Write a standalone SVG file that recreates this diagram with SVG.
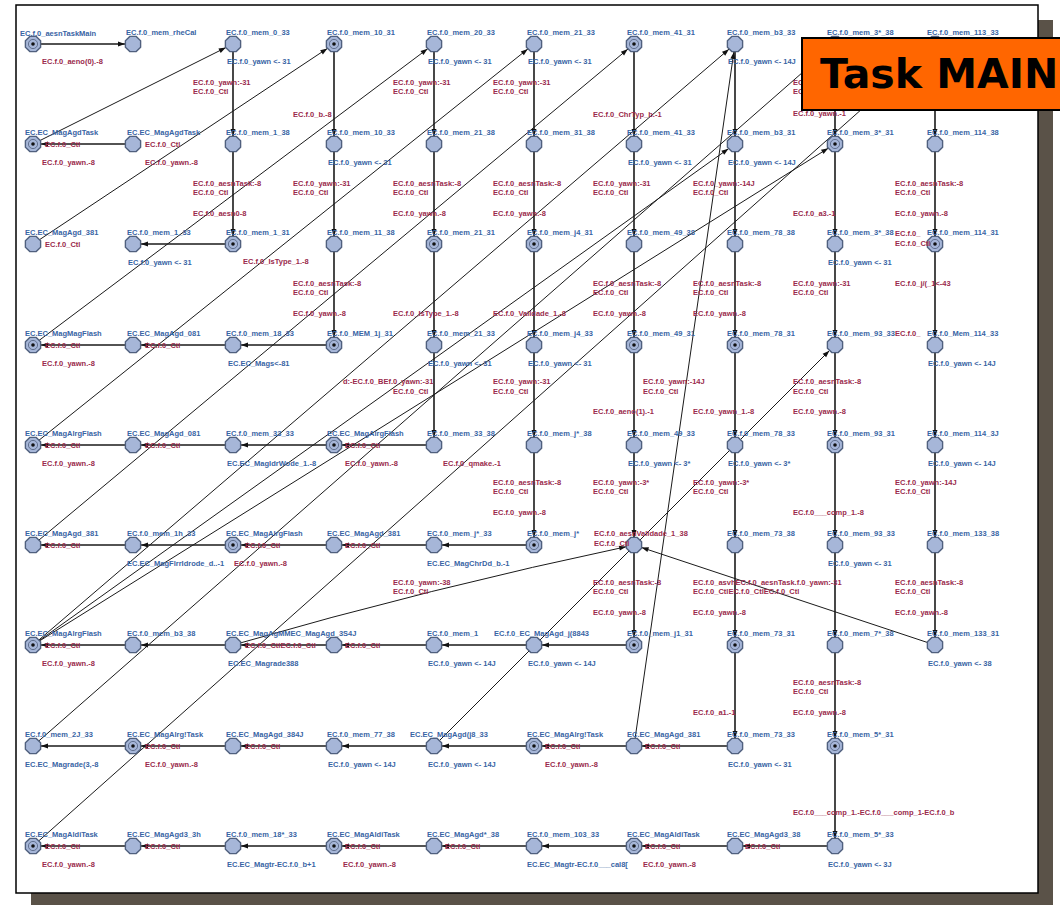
<svg xmlns="http://www.w3.org/2000/svg" xmlns:xlink="http://www.w3.org/1999/xlink" width="1060" height="905" viewBox="0 0 1060 905">
<style>
text{font-family:"Liberation Sans",Arial,sans-serif;font-size:7.5px;font-weight:bold}
.b{fill:#3864a4}
.r{fill:#9a2a4c}
.e{stroke:#1a1a1a;stroke-width:1.6;fill:none;marker-end:url(#arr)}
.d{stroke:#1a1a1a;stroke-width:1;fill:none;marker-end:url(#arr)}
.st{fill:#a6b6d8;stroke:#50607e;stroke-width:1.4}
.title{font-family:"DejaVu Sans",sans-serif;font-size:41px;font-weight:bold;fill:#000}
</style>
<defs>
<marker id="arr" markerUnits="userSpaceOnUse" markerWidth="8" markerHeight="6" refX="15" refY="2.5" orient="auto" overflow="visible">
<path d="M0,0 L7,2.5 L0,5 z" fill="#111"/>
</marker>
<polygon id="st" class="st" points="7.6,3.2 3.2,7.6 -3.2,7.6 -7.6,3.2 -7.6,-3.2 -3.2,-7.6 3.2,-7.6 7.6,-3.2"/>
<g id="sd"><use xlink:href="#st"/><circle r="4.6" fill="none" stroke="#50607e" stroke-width="0.8"/><circle r="1.8" fill="#111"/></g>
</defs>

<!-- sheet with drop shadow -->
<rect x="31" y="20" width="1022" height="892" fill="#5a5248"/>
<rect x="16" y="5" width="1022" height="888" fill="#fff" stroke="#000" stroke-width="1.5"/>

<g id="connectors">
<!-- vertical transitions -->
<line class="e" x1="233" y1="44" x2="233" y2="144"/><line class="e" x1="233" y1="144" x2="233" y2="244"/>
<line class="e" x1="334" y1="44" x2="334" y2="144"/><line class="e" x1="334" y1="144" x2="334" y2="244"/><line class="e" x1="334" y1="244" x2="334" y2="345"/>
<line class="e" x1="434" y1="44" x2="434" y2="144"/><line class="e" x1="434" y1="144" x2="434" y2="244"/><line class="e" x1="434" y1="244" x2="434" y2="345"/><line class="e" x1="434" y1="345" x2="434" y2="445"/>
<line class="e" x1="534" y1="44" x2="534" y2="144"/><line class="e" x1="534" y1="144" x2="534" y2="244"/><line class="e" x1="534" y1="244" x2="534" y2="345"/><line class="e" x1="534" y1="345" x2="534" y2="445"/><line class="e" x1="534" y1="445" x2="534" y2="545"/>
<line class="e" x1="634" y1="44" x2="634" y2="144"/><line class="e" x1="634" y1="144" x2="634" y2="244"/><line class="e" x1="634" y1="244" x2="634" y2="345"/><line class="e" x1="634" y1="345" x2="634" y2="445"/><line class="e" x1="634" y1="445" x2="634" y2="545"/><line class="e" x1="634" y1="545" x2="634" y2="645"/>
<line class="e" x1="735" y1="44" x2="735" y2="144"/><line class="e" x1="735" y1="144" x2="735" y2="244"/><line class="e" x1="735" y1="244" x2="735" y2="345"/><line class="e" x1="735" y1="345" x2="735" y2="445"/><line class="e" x1="735" y1="445" x2="735" y2="545"/><line class="e" x1="735" y1="545" x2="735" y2="645"/><line class="e" x1="735" y1="645" x2="735" y2="746"/>
<line class="e" x1="835" y1="44" x2="835" y2="144"/><line class="e" x1="835" y1="144" x2="835" y2="244"/><line class="e" x1="835" y1="244" x2="835" y2="345"/><line class="e" x1="835" y1="345" x2="835" y2="445"/><line class="e" x1="835" y1="445" x2="835" y2="545"/><line class="e" x1="835" y1="545" x2="835" y2="645"/><line class="e" x1="835" y1="645" x2="835" y2="746"/><line class="e" x1="835" y1="746" x2="835" y2="846"/>
<line class="e" x1="935" y1="44" x2="935" y2="144"/><line class="e" x1="935" y1="144" x2="935" y2="244"/><line class="e" x1="935" y1="244" x2="935" y2="345"/><line class="e" x1="935" y1="345" x2="935" y2="445"/><line class="e" x1="935" y1="445" x2="935" y2="545"/><line class="e" x1="935" y1="545" x2="935" y2="645"/>
<!-- horizontal transitions -->
<line class="e" x1="33" y1="44" x2="133" y2="44"/>
<line class="e" x1="133" y1="144" x2="33" y2="144"/>
<line class="e" x1="233" y1="244" x2="133" y2="244"/>
<line class="e" x1="334" y1="345" x2="233" y2="345"/><line class="e" x1="233" y1="345" x2="133" y2="345"/><line class="e" x1="133" y1="345" x2="33" y2="345"/>
<line class="e" x1="434" y1="445" x2="334" y2="445"/><line class="e" x1="334" y1="445" x2="233" y2="445"/><line class="e" x1="233" y1="445" x2="133" y2="445"/><line class="e" x1="133" y1="445" x2="33" y2="445"/>
<line class="e" x1="534" y1="545" x2="434" y2="545"/><line class="e" x1="434" y1="545" x2="334" y2="545"/><line class="e" x1="334" y1="545" x2="233" y2="545"/><line class="e" x1="233" y1="545" x2="133" y2="545"/><line class="e" x1="133" y1="545" x2="33" y2="545"/>
<line class="e" x1="634" y1="645" x2="534" y2="645"/><line class="e" x1="534" y1="645" x2="434" y2="645"/><line class="e" x1="434" y1="645" x2="334" y2="645"/><line class="e" x1="334" y1="645" x2="233" y2="645"/><line class="e" x1="233" y1="645" x2="133" y2="645"/><line class="e" x1="133" y1="645" x2="33" y2="645"/>
<line class="e" x1="735" y1="746" x2="634" y2="746"/><line class="e" x1="634" y1="746" x2="534" y2="746"/><line class="e" x1="534" y1="746" x2="434" y2="746"/><line class="e" x1="434" y1="746" x2="334" y2="746"/><line class="e" x1="334" y1="746" x2="233" y2="746"/><line class="e" x1="233" y1="746" x2="133" y2="746"/><line class="e" x1="133" y1="746" x2="33" y2="746"/>
<line class="e" x1="835" y1="846" x2="735" y2="846"/><line class="e" x1="735" y1="846" x2="634" y2="846"/><line class="e" x1="634" y1="846" x2="534" y2="846"/><line class="e" x1="534" y1="846" x2="434" y2="846"/><line class="e" x1="434" y1="846" x2="334" y2="846"/><line class="e" x1="334" y1="846" x2="233" y2="846"/><line class="e" x1="233" y1="846" x2="133" y2="846"/><line class="e" x1="133" y1="846" x2="33" y2="846"/>
<!-- long return transitions -->
<line class="d" x1="33" y1="144" x2="233" y2="44"/>
<line class="d" x1="33" y1="244" x2="334" y2="44"/>
<line class="d" x1="33" y1="345" x2="434" y2="44"/>
<line class="d" x1="33" y1="445" x2="534" y2="44"/>
<line class="d" x1="33" y1="545" x2="634" y2="44"/>
<line class="d" x1="33" y1="645" x2="735" y2="44"/>
<line class="d" x1="33" y1="645" x2="735" y2="144"/>
<line class="d" x1="33" y1="645" x2="835" y2="144"/>
<line class="d" x1="33" y1="746" x2="835" y2="44"/>
<line class="d" x1="33" y1="846" x2="935" y2="44"/>
<line class="d" x1="434" y1="746" x2="835" y2="345"/>
<line class="d" x1="634" y1="746" x2="735" y2="44"/>
<path class="d" d="M233,645 Q430,588 634,545"/>
<line class="d" x1="935" y1="645" x2="634" y2="545"/>
<!-- transition labels -->
<text class="r" x="193" y="85">EC.f.0_yawn:-31</text><text class="r" x="193" y="94">EC.f.0_Ctl</text>
<text class="r" x="193" y="186">EC.f.0_aesnTask:-8</text><text class="r" x="193" y="195">EC.f.0_Ctl</text>
<text class="r" x="193" y="216">EC.f.0_aesn0-8</text>
<text class="r" x="293" y="117">EC.f.0_b.-8</text>
<text class="r" x="293" y="186">EC.f.0_yawn:-31</text><text class="r" x="293" y="195">EC.f.0_Ctl</text>
<text class="r" x="293" y="286">EC.f.0_aesnTask:-8</text><text class="r" x="293" y="295">EC.f.0_Ctl</text>
<text class="r" x="293" y="316">EC.f.0_yawn.-8</text>
<text class="r" x="243" y="264">EC.f.0_IsType_1.-8</text>
<text class="r" x="393" y="85">EC.f.0_yawn:-31</text><text class="r" x="393" y="94">EC.f.0_Ctl</text>
<text class="r" x="393" y="186">EC.f.0_aesnTask:-8</text><text class="r" x="393" y="195">EC.f.0_Ctl</text>
<text class="r" x="393" y="216">EC.f.0_yawn.-8</text>
<text class="r" x="393" y="316">EC.f.0_IsType_1.-8</text>
<text class="r" x="343" y="384">d:-EC.f.0_BEf.0_yawn:-31</text><text class="r" x="393" y="394">EC.f.0_Ctl</text>
<text class="r" x="493" y="85">EC.f.0_yawn:-31</text><text class="r" x="493" y="94">EC.f.0_Ctl</text>
<text class="r" x="493" y="186">EC.f.0_aesnTask:-8</text><text class="r" x="493" y="195">EC.f.0_Ctl</text>
<text class="r" x="493" y="216">EC.f.0_yawn.-8</text>
<text class="r" x="493" y="316">EC.f.0_ValIdade_1.-8</text>
<text class="r" x="493" y="384">EC.f.0_yawn:-31</text><text class="r" x="493" y="394">EC.f.0_Ctl</text>
<text class="r" x="493" y="485">EC.f.0_aesnTask:-8</text><text class="r" x="493" y="494">EC.f.0_Ctl</text>
<text class="r" x="493" y="515">EC.f.0_yawn.-8</text>
<text class="r" x="593" y="117">EC.f.0_ChrTyp_b.-1</text>
<text class="r" x="593" y="186">EC.f.0_yawn:-31</text><text class="r" x="593" y="195">EC.f.0_Ctl</text>
<text class="r" x="593" y="286">EC.f.0_aesnTask:-8</text><text class="r" x="593" y="295">EC.f.0_Ctl</text>
<text class="r" x="593" y="316">EC.f.0_yawn.-8</text>
<text class="r" x="643" y="384">EC.f.0_yawn:-14J</text><text class="r" x="643" y="394">EC.f.0_Ctl</text>
<text class="r" x="593" y="414">EC.f.0_aeno(1).-1</text>
<text class="r" x="593" y="485">EC.f.0_yawn:-3*</text><text class="r" x="593" y="494">EC.f.0_Ctl</text>
<text class="r" x="593" y="585">EC.f.0_aesnTask:-8</text><text class="r" x="593" y="594">EC.f.0_Ctl</text>
<text class="r" x="593" y="615">EC.f.0_yawn.-8</text>
<text class="r" x="393" y="585">EC.f.0_yawn:-38</text><text class="r" x="393" y="594">EC.f.0_Ctl</text>
<text class="r" x="793" y="85">EC</text><text class="r" x="793" y="94">EC</text>
<text class="r" x="793" y="116">EC.f.0_yawn.-1</text>
<text class="r" x="693" y="186">EC.f.0_yawn:-14J</text><text class="r" x="693" y="195">EC.f.0_Ctl</text>
<text class="r" x="693" y="286">EC.f.0_aesnTask:-8</text><text class="r" x="693" y="295">EC.f.0_Ctl</text>
<text class="r" x="693" y="316">EC.f.0_yawn.-8</text>
<text class="r" x="693" y="414">EC.f.0_yawn_1.-8</text>
<text class="r" x="693" y="485">EC.f.0_yawn:-3*</text><text class="r" x="693" y="494">EC.f.0_Ctl</text>
<text class="r" x="693" y="585">EC.f.0_asvhEC.f.0_aesnTask.f.0_yawn:-31</text><text class="r" x="693" y="594">EC.f.0_CtlEC.f.0_CtlEC.f.0_Ctl</text>
<text class="r" x="693" y="615">EC.f.0_yawn.-8</text>
<text class="r" x="693" y="715">EC.f.0_a1.-1</text>
<text class="r" x="793" y="216">EC.f.0_a3.-1</text>
<text class="r" x="793" y="286">EC.f.0_yawn:-31</text><text class="r" x="793" y="295">EC.f.0_Ctl</text>
<text class="r" x="793" y="384">EC.f.0_aesnTask:-8</text><text class="r" x="793" y="394">EC.f.0_Ctl</text>
<text class="r" x="793" y="414">EC.f.0_yawn.-8</text>
<text class="r" x="793" y="515">EC.f.0___comp_1.-8</text>
<text class="r" x="793" y="685">EC.f.0_aesnTask:-8</text><text class="r" x="793" y="694">EC.f.0_Ctl</text>
<text class="r" x="793" y="715">EC.f.0_yawn.-8</text>
<text class="r" x="793" y="815">EC.f.0___comp_1.-EC.f.0___comp_1-EC.f.0_b</text>
<text class="r" x="895" y="186">EC.f.0_aesnTask:-8</text><text class="r" x="895" y="195">EC.f.0_Ctl</text>
<text class="r" x="895" y="216">EC.f.0_yawn.-8</text>
<text class="r" x="895" y="286">EC.f.0_j/(_1&lt;-43</text>
<text class="r" x="895" y="485">EC.f.0_yawn:-14J</text><text class="r" x="895" y="494">EC.f.0_Ctl</text>
<text class="r" x="895" y="585">EC.f.0_aesnTask:-8</text><text class="r" x="895" y="594">EC.f.0_Ctl</text>
<text class="r" x="895" y="615">EC.f.0_yawn.-8</text>
</g>

<!-- row 1 -->
<g id="s1_0"><use xlink:href="#sd" x="33" y="44"/><text class="b" x="20" y="36">EC.f.0_aesnTaskMain</text><text class="r" x="42" y="64">EC.f.0_aeno(0).-8</text></g>
<g id="s1_1"><use xlink:href="#st" x="133" y="44"/><text class="b" x="126" y="35">EC.f.0_mem_rheCal</text></g>
<g id="s1_2"><use xlink:href="#st" x="233" y="44"/><text class="b" x="226" y="35">EC.f.0_mem_0_33</text><text class="b" x="227" y="64">EC.f.0_yawn &lt;- 31</text></g>
<g id="s1_3"><use xlink:href="#sd" x="334" y="44"/><text class="b" x="327" y="35">EC.f.0_mem_10_31</text></g>
<g id="s1_4"><use xlink:href="#st" x="434" y="44"/><text class="b" x="427" y="35">EC.f.0_mem_20_33</text><text class="b" x="428" y="64">EC.f.0_yawn &lt;- 31</text></g>
<g id="s1_5"><use xlink:href="#st" x="534" y="44"/><text class="b" x="527" y="35">EC.f.0_mem_21_33</text><text class="b" x="528" y="64">EC.f.0_yawn &lt;- 31</text></g>
<g id="s1_6"><use xlink:href="#sd" x="634" y="44"/><text class="b" x="627" y="35">EC.f.0_mem_41_31</text></g>
<g id="s1_7"><use xlink:href="#st" x="735" y="44"/><text class="b" x="727" y="35">EC.f.0_mem_b3_33</text><text class="b" x="728" y="64">EC.f.0_yawn &lt;- 14J</text></g>
<g id="s1_8"><use xlink:href="#st" x="835" y="44"/><text class="b" x="827" y="35">EC.f.0_mem_3*_38</text></g>
<g id="s1_9"><use xlink:href="#st" x="935" y="44"/><text class="b" x="927" y="35">EC.f.0_mem_113_33</text></g>
<!-- row 2 -->
<g id="s2_0"><use xlink:href="#sd" x="33" y="144"/><text class="b" x="25" y="135">EC.EC_MagAgdTask</text><text class="r" x="45" y="147">EC.f.0_Ctl</text><text class="r" x="42" y="165">EC.f.0_yawn.-8</text></g>
<g id="s2_1"><use xlink:href="#st" x="133" y="144" style="stroke:#222;stroke-width:2.2"/><text class="b" x="127" y="135">EC.EC_MagAgdTask</text><text class="r" x="145" y="147">EC.f.0_Ctl</text><text class="r" x="145" y="165">EC.f.0_yawn.-8</text></g>
<g id="s2_2"><use xlink:href="#st" x="233" y="144"/><text class="b" x="226" y="135">EC.f.0_mem_1_38</text></g>
<g id="s2_3"><use xlink:href="#st" x="334" y="144"/><text class="b" x="327" y="135">EC.f.0_mem_10_33</text><text class="b" x="328" y="165">EC.f.0_yawn &lt;- 31</text></g>
<g id="s2_4"><use xlink:href="#st" x="434" y="144"/><text class="b" x="427" y="135">EC.f.0_mem_21_38</text></g>
<g id="s2_5"><use xlink:href="#st" x="534" y="144"/><text class="b" x="527" y="135">EC.f.0_mem_31_38</text></g>
<g id="s2_6"><use xlink:href="#st" x="634" y="144"/><text class="b" x="627" y="135">EC.f.0_mem_41_33</text><text class="b" x="628" y="165">EC.f.0_yawn &lt;- 31</text></g>
<g id="s2_7"><use xlink:href="#st" x="735" y="144"/><text class="b" x="727" y="135">EC.f.0_mem_b3_31</text><text class="b" x="728" y="165">EC.f.0_yawn &lt;- 14J</text></g>
<g id="s2_8"><use xlink:href="#sd" x="835" y="144"/><text class="b" x="827" y="135">EC.f.0_mem_3*_31</text></g>
<g id="s2_9"><use xlink:href="#st" x="935" y="144"/><text class="b" x="927" y="135">EC.f.0_mem_114_38</text></g>
<!-- row 3 -->
<g id="s3_0"><use xlink:href="#st" x="33" y="244"/><text class="b" x="25" y="235">EC.EC_MagAgd_381</text><text class="r" x="45" y="247">EC.f.0_Ctl</text></g>
<g id="s3_1"><use xlink:href="#st" x="133" y="244"/><text class="b" x="127" y="235">EC.f.0_mem_1_33</text><text class="b" x="128" y="265">EC.f.0_yawn &lt;- 31</text></g>
<g id="s3_2"><use xlink:href="#sd" x="233" y="244"/><text class="b" x="226" y="235">EC.f.0_mem_1_31</text></g>
<g id="s3_3"><use xlink:href="#st" x="334" y="244"/><text class="b" x="327" y="235">EC.f.0_mem_11_38</text></g>
<g id="s3_4"><use xlink:href="#sd" x="434" y="244"/><text class="b" x="427" y="235">EC.f.0_mem_21_31</text></g>
<g id="s3_5"><use xlink:href="#sd" x="534" y="244"/><text class="b" x="527" y="235">EC.f.0_mem_j4_31</text></g>
<g id="s3_6"><use xlink:href="#st" x="634" y="244"/><text class="b" x="627" y="235">EC.f.0_mem_49_38</text></g>
<g id="s3_7"><use xlink:href="#st" x="735" y="244"/><text class="b" x="727" y="235">EC.f.0_mem_78_38</text></g>
<g id="s3_8"><use xlink:href="#st" x="835" y="244"/><text class="b" x="827" y="235">EC.f.0_mem_3*_38</text><text class="b" x="828" y="265">EC.f.0_yawn &lt;- 31</text></g>
<g id="s3_9"><use xlink:href="#sd" x="935" y="244"/><text class="b" x="927" y="235">EC.f.0_mem_114_31</text><text class="r" x="895" y="236">EC.f.0_</text><text class="r" x="895" y="246">EC.f.0_Ctl</text></g>
<!-- row 4 -->
<g id="s4_0"><use xlink:href="#sd" x="33" y="345"/><text class="b" x="25" y="336">EC.EC_MagMagFlash</text><text class="r" x="45" y="348">EC.f.0_Ctl</text><text class="r" x="42" y="366">EC.f.0_yawn.-8</text></g>
<g id="s4_1"><use xlink:href="#st" x="133" y="345"/><text class="b" x="127" y="336">EC.EC_MagAgd_081</text><text class="r" x="145" y="348">EC.f.0_Ctl</text></g>
<g id="s4_2"><use xlink:href="#st" x="233" y="345"/><text class="b" x="226" y="336">EC.f.0_mem_18_33</text><text class="b" x="228" y="366">EC.EC_Mags&lt;-81</text></g>
<g id="s4_3"><use xlink:href="#sd" x="334" y="345"/><text class="b" x="327" y="336">EC.f.0_MEM_1j_31</text></g>
<g id="s4_4"><use xlink:href="#st" x="434" y="345"/><text class="b" x="427" y="336">EC.f.0_mem_21_33</text><text class="b" x="428" y="366">EC.f.0_yawn &lt;- 31</text></g>
<g id="s4_5"><use xlink:href="#st" x="534" y="345"/><text class="b" x="527" y="336">EC.f.0_mem_j4_33</text><text class="b" x="528" y="366">EC.f.0_yawn &lt;- 31</text></g>
<g id="s4_6"><use xlink:href="#sd" x="634" y="345"/><text class="b" x="627" y="336">EC.f.0_mem_49_31</text></g>
<g id="s4_7"><use xlink:href="#sd" x="735" y="345"/><text class="b" x="727" y="336">EC.f.0_mem_78_31</text></g>
<g id="s4_8"><use xlink:href="#st" x="835" y="345"/><text class="b" x="827" y="336">EC.f.0_mem_93_33</text><text class="r" x="895" y="336">EC.f.0_</text></g>
<g id="s4_9"><use xlink:href="#st" x="935" y="345"/><text class="b" x="927" y="336">EC.f.0_Mem_114_33</text><text class="b" x="928" y="366">EC.f.0_yawn &lt;- 14J</text></g>
<!-- row 5 -->
<g id="s5_0"><use xlink:href="#sd" x="33" y="445"/><text class="b" x="25" y="436">EC.EC_MagAlrgFlash</text><text class="r" x="45" y="448">EC.f.0_Ctl</text><text class="r" x="42" y="466">EC.f.0_yawn.-8</text></g>
<g id="s5_1"><use xlink:href="#st" x="133" y="445"/><text class="b" x="127" y="436">EC.EC_MagAgd_081</text><text class="r" x="145" y="448">EC.f.0_Ctl</text></g>
<g id="s5_2"><use xlink:href="#st" x="233" y="445"/><text class="b" x="226" y="436">EC.f.0_mem_33_33</text><text class="b" x="227" y="466">EC.EC_MagIdrWode_1.-8</text></g>
<g id="s5_3"><use xlink:href="#sd" x="334" y="445"/><text class="b" x="327" y="436">EC.EC_MagAlrgFlash</text><text class="r" x="345" y="448">EC.f.0_Ctl</text><text class="r" x="345" y="466">EC.f.0_yawn.-8</text></g>
<g id="s5_4"><use xlink:href="#st" x="434" y="445"/><text class="b" x="427" y="436">EC.f.0_mem_33_38</text><text class="r" x="443" y="466">EC.f.0_qmake.-1</text></g>
<g id="s5_5"><use xlink:href="#st" x="534" y="445"/><text class="b" x="527" y="436">EC.f.0_mem_j*_38</text></g>
<g id="s5_6"><use xlink:href="#st" x="634" y="445"/><text class="b" x="627" y="436">EC.f.0_mem_49_33</text><text class="b" x="628" y="466">EC.f.0_yawn &lt;- 3*</text></g>
<g id="s5_7"><use xlink:href="#st" x="735" y="445"/><text class="b" x="727" y="436">EC.f.0_mem_78_33</text><text class="b" x="728" y="466">EC.f.0_yawn &lt;- 3*</text></g>
<g id="s5_8"><use xlink:href="#sd" x="835" y="445"/><text class="b" x="827" y="436">EC.f.0_mem_93_31</text></g>
<g id="s5_9"><use xlink:href="#st" x="935" y="445"/><text class="b" x="927" y="436">EC.f.0_mem_114_3J</text><text class="b" x="928" y="466">EC.f.0_yawn &lt;- 14J</text></g>
<!-- row 6 -->
<g id="s6_0"><use xlink:href="#st" x="33" y="545"/><text class="b" x="25" y="536">EC.EC_MagAgd_381</text><text class="r" x="45" y="548">EC.f.0_Ctl</text></g>
<g id="s6_1"><use xlink:href="#st" x="133" y="545"/><text class="b" x="127" y="536">EC.f.0_mem_1h_33</text><text class="b" x="127" y="566">EC.EC_MagFlrrIdrode_d..-1</text><text class="r" x="234" y="566">EC.f.0_yawn.-8</text></g>
<g id="s6_2"><use xlink:href="#sd" x="233" y="545"/><text class="b" x="226" y="536">EC.EC_MagAlrgFlash</text><text class="r" x="245" y="548">EC.f.0_Ctl</text></g>
<g id="s6_3"><use xlink:href="#st" x="334" y="545"/><text class="b" x="327" y="536">EC.EC_MagAgd_381</text><text class="r" x="345" y="548">EC.f.0_Ctl</text></g>
<g id="s6_4"><use xlink:href="#st" x="434" y="545"/><text class="b" x="427" y="536">EC.f.0_mem_j*_33</text><text class="b" x="427" y="566">EC.EC_MagChrDd_b.-1</text></g>
<g id="s6_5"><use xlink:href="#sd" x="534" y="545"/><text class="b" x="527" y="536">EC.f.0_mem_j*</text></g>
<g id="s6_6"><use xlink:href="#st" x="634" y="545"/><text class="r" x="594" y="536">EC.f.0_aesnValIdade_1_38</text><text class="r" x="594" y="546">EC.f.0_Ctl</text></g>
<g id="s6_7"><use xlink:href="#st" x="735" y="545"/><text class="b" x="727" y="536">EC.f.0_mem_73_38</text></g>
<g id="s6_8"><use xlink:href="#st" x="835" y="545"/><text class="b" x="827" y="536">EC.f.0_mem_93_33</text><text class="b" x="828" y="566">EC.f.0_yawn &lt;- 31</text></g>
<g id="s6_9"><use xlink:href="#st" x="935" y="545"/><text class="b" x="927" y="536">EC.f.0_mem_133_38</text></g>
<!-- row 7 -->
<g id="s7_0"><use xlink:href="#sd" x="33" y="645"/><text class="b" x="25" y="636">EC.EC_MagAlrgFlash</text><text class="r" x="45" y="648">EC.f.0_Ctl</text><text class="r" x="42" y="666">EC.f.0_yawn.-8</text></g>
<g id="s7_1"><use xlink:href="#st" x="133" y="645"/><text class="b" x="127" y="636">EC.f.0_mem_b3_38</text></g>
<g id="s7_2"><use xlink:href="#st" x="233" y="645"/><text class="b" x="226" y="636">EC.EC_MagAgMMEC_MagAgd_3S4J</text><text class="r" x="245" y="648">EC.f.0_CtlEC.f.0_Ctl</text><text class="b" x="228" y="666">EC.EC_Magrade388</text></g>
<g id="s7_3"><use xlink:href="#st" x="334" y="645"/><text class="r" x="345" y="648">EC.f.0_Ctl</text></g>
<g id="s7_4"><use xlink:href="#st" x="434" y="645"/><text class="b" x="427" y="636">EC.f.0_mem_1</text><text class="b" x="428" y="666">EC.f.0_yawn &lt;- 14J</text></g>
<g id="s7_5"><use xlink:href="#st" x="534" y="645"/><text class="b" x="494" y="636">EC.f.0_EC_MagAgd_j(8843</text><text class="b" x="528" y="666">EC.f.0_yawn &lt;- 14J</text></g>
<g id="s7_6"><use xlink:href="#sd" x="634" y="645"/><text class="b" x="627" y="636">EC.f.0_mem_j1_31</text></g>
<g id="s7_7"><use xlink:href="#sd" x="735" y="645"/><text class="b" x="727" y="636">EC.f.0_mem_73_31</text></g>
<g id="s7_8"><use xlink:href="#st" x="835" y="645"/><text class="b" x="827" y="636">EC.f.0_mem_7*_38</text></g>
<g id="s7_9"><use xlink:href="#st" x="935" y="645"/><text class="b" x="927" y="636">EC.f.0_mem_133_31</text><text class="b" x="928" y="666">EC.f.0_yawn &lt;- 38</text></g>
<!-- row 8 -->
<g id="s8_0"><use xlink:href="#st" x="33" y="746"/><text class="b" x="25" y="737">EC.f.0_mem_2J_33</text><text class="b" x="25" y="767">EC.EC_Magrade(3,-8</text></g>
<g id="s8_1"><use xlink:href="#sd" x="133" y="746"/><text class="b" x="127" y="737">EC.EC_MagAlrg!Task</text><text class="r" x="145" y="749">EC.f.0_Ctl</text><text class="r" x="145" y="767">EC.f.0_yawn.-8</text></g>
<g id="s8_2"><use xlink:href="#st" x="233" y="746"/><text class="b" x="226" y="737">EC.EC_MagAgd_384J</text><text class="r" x="245" y="749">EC.f.0_Ctl</text></g>
<g id="s8_3"><use xlink:href="#st" x="334" y="746"/><text class="b" x="327" y="737">EC.f.0_mem_77_38</text><text class="b" x="328" y="767">EC.f.0_yawn &lt;- 14J</text></g>
<g id="s8_4"><use xlink:href="#st" x="434" y="746"/><text class="b" x="410" y="737">EC.EC_MagAgd(j8_33</text><text class="b" x="428" y="767">EC.f.0_yawn &lt;- 14J</text></g>
<g id="s8_5"><use xlink:href="#sd" x="534" y="746"/><text class="b" x="527" y="737">EC.EC_MagAlrg!Task</text><text class="r" x="545" y="749">EC.f.0_Ctl</text><text class="r" x="545" y="767">EC.f.0_yawn.-8</text></g>
<g id="s8_6"><use xlink:href="#st" x="634" y="746"/><text class="b" x="627" y="737">EC.EC_MagAgd_381</text><text class="r" x="645" y="749">EC.f.0_Ctl</text></g>
<g id="s8_7"><use xlink:href="#st" x="735" y="746"/><text class="b" x="727" y="737">EC.f.0_mem_73_33</text><text class="b" x="728" y="767">EC.f.0_yawn &lt;- 31</text></g>
<g id="s8_8"><use xlink:href="#sd" x="835" y="746"/><text class="b" x="827" y="737">EC.f.0_mem_5*_31</text></g>
<!-- row 9 -->
<g id="s9_0"><use xlink:href="#sd" x="33" y="846"/><text class="b" x="25" y="837">EC.EC_MagAldiTask</text><text class="r" x="45" y="849">EC.f.0_Ctl</text><text class="r" x="42" y="867">EC.f.0_yawn.-8</text></g>
<g id="s9_1"><use xlink:href="#st" x="133" y="846"/><text class="b" x="127" y="837">EC.EC_MagAgd3_3h</text><text class="r" x="145" y="849">EC.f.0_Ctl</text></g>
<g id="s9_2"><use xlink:href="#st" x="233" y="846"/><text class="b" x="226" y="837">EC.f.0_mem_18*_33</text><text class="b" x="227" y="867">EC.EC_Magtr-EC.f.0_b+1</text></g>
<g id="s9_3"><use xlink:href="#sd" x="334" y="846"/><text class="b" x="327" y="837">EC.EC_MagAldiTask</text><text class="r" x="345" y="849">EC.f.0_Ctl</text><text class="r" x="343" y="867">EC.f.0_yawn.-8</text></g>
<g id="s9_4"><use xlink:href="#st" x="434" y="846"/><text class="b" x="427" y="837">EC.EC_MagAgd*_38</text><text class="r" x="445" y="849">EC.f.0_Ctl</text></g>
<g id="s9_5"><use xlink:href="#st" x="534" y="846"/><text class="b" x="527" y="837">EC.f.0_mem_103_33</text><text class="b" x="527" y="867">EC.EC_Magtr-EC.f.0___cal8[</text></g>
<g id="s9_6"><use xlink:href="#sd" x="634" y="846"/><text class="b" x="627" y="837">EC.EC_MagAldiTask</text><text class="r" x="645" y="849">EC.f.0_Ctl</text><text class="r" x="643" y="867">EC.f.0_yawn.-8</text></g>
<g id="s9_7"><use xlink:href="#st" x="735" y="846"/><text class="b" x="727" y="837">EC.EC_MagAgd3_38</text><text class="r" x="745" y="849">EC.f.0_Ctl</text></g>
<g id="s9_8"><use xlink:href="#st" x="835" y="846"/><text class="b" x="827" y="837">EC.f.0_mem_5*_33</text><text class="b" x="828" y="867">EC.f.0_yawn &lt;- 3J</text></g>

<!-- process title -->
<g id="title">
<rect x="802" y="38" width="280" height="72" fill="#ff6600" stroke="#000" stroke-width="2"/>
<text class="title" x="820" y="88">Task MAIN</text>
</g>
</svg>
